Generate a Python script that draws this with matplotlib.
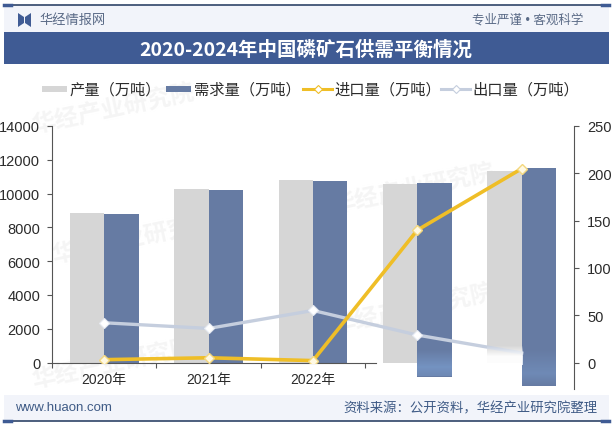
import matplotlib
matplotlib.use("Agg")
import matplotlib.pyplot as plt
from matplotlib.patches import Rectangle
import numpy as np

plt.rcParams['font.family'] = ['Liberation Sans', 'Noto Sans CJK SC', 'DejaVu Sans']

W, H = 613, 427

years = ["2020年", "2021年", "2022年", "2023年", "2024年"]
tick_labels = ["2020年", "2021年", "2022年", "", ""]
production = [8850, 10250, 10800, 10550, 11350]
demand = [8800, 10200, 10750, 10650, 11500]
imports = [3, 5, 2, 140, 205]
exports = [42, 36, 55, 29, 10]
# part of the bars that runs under the axis in the reference
overhang = [0, 0, 0, -880, -1400]

left_ticks = [0, 2000, 4000, 6000, 8000, 10000, 12000, 14000]
right_ticks = [0, 50, 100, 150, 200, 250]

GRAY = "#d6d6d6"
BLUE = "#667ba3"
YELLOW = "#efbe27"
SILVER = "#c5cede"
NAVY = "#2f4468"
BAND = "#3f5b94"
PALE = "#f2f4fa"
TEXT = "#2b2b2b"


def box(x0, y0, x1, y1):
    # pixel box (from top left) to figure fractions
    return [x0 / W, 1 - y1 / H, (x1 - x0) / W, (y1 - y0) / H]


def wash(x0, y0, x1, y1, rgb, alphas):
    # vertical alpha gradient laid over the chart
    img = np.ones((len(alphas), 1, 4))
    img[:, 0, :3] = rgb
    img[:, 0, 3] = alphas
    over = fig.add_axes(box(x0, y0, x1, y1), zorder=3)
    over.axis("off")
    over.imshow(img, aspect="auto", extent=(0, 1, 0, 1), interpolation="bilinear")


fig = plt.figure(figsize=(W / 100, H / 100), dpi=100, facecolor="white")

# page furniture, pixel coordinates
bg = fig.add_axes([0, 0, 1, 1], zorder=0)
bg.set_xlim(0, W)
bg.set_ylim(H, 0)
bg.axis("off")

# faint watermarks
for wx, wy in [(30, 110), (330, 190), (50, 240), (330, 310), (30, 365)]:
    bg.text(wx, wy, "华经产业研究院", fontsize=17, color="#f5f5f5", rotation=12,
            va="center", fontweight="bold", zorder=0.5)

bg.add_patch(Rectangle((4, 6), 605, 27, color=PALE, lw=0))
bg.add_patch(Rectangle((4, 33), 605, 32, color=BAND, lw=0))
bg.add_patch(Rectangle((4, 396), 605, 26, color=PALE, lw=0))
bg.plot([4, 609], [6, 6], color=NAVY, lw=1.2)
bg.plot([4, 609], [422, 422], color=NAVY, lw=1.2)
bg.plot([4, 11], [6, 6], color=BAND, lw=2.5)
bg.plot([602, 609], [6, 6], color=BAND, lw=2.5)
bg.plot([4, 11], [422, 422], color=BAND, lw=2.5)
bg.plot([602, 609], [422, 422], color=BAND, lw=2.5)

# logo
bg.fill([18, 24, 24, 18], [14, 18, 24, 28], color=BAND, lw=0)
bg.fill([31, 25, 25, 31], [14, 18, 24, 28], color=BAND, lw=0)
bg.text(39, 20.5, "华经情报网", fontsize=9.5, color="#5a6a86", va="center")
bg.text(583, 20.5, "专业严谨 • 客观科学", fontsize=9, color="#5a6a86", va="center", ha="right")
bg.text(306, 50.5, "2020-2024年中国磷矿石供需平衡情况", fontsize=14, color="white",
        fontweight="bold", va="center", ha="center", family=["Noto Sans CJK SC", "DejaVu Sans"])
bg.text(15, 408.5, "www.huaon.com", fontsize=9.5, color="#3f5b86", va="center")
bg.text(597, 408.5, "资料来源：公开资料，华经产业研究院整理", fontsize=9.6, color="#3f5b86",
        va="center", ha="right")

# legend
bg.add_patch(Rectangle((42, 87), 25, 6, color=GRAY, lw=0))
bg.add_patch(Rectangle((166, 87), 25, 6, color=BLUE, lw=0))
bg.plot([303, 332], [90, 90], color=YELLOW, lw=2.2)
bg.plot([317.5], [90], "D", ms=4.5, mfc="white", mec=YELLOW, mew=0.8)
bg.plot([441, 470], [90, 90], color=SILVER, lw=2.2)
bg.plot([455.5], [90], "D", ms=4.5, mfc="white", mec=SILVER, mew=0.8)
legend_font = 11
bg.text(70, 90, "产量（万吨）", fontsize=legend_font, color=TEXT, va="center")
bg.text(194, 90, "需求量（万吨）", fontsize=legend_font, color=TEXT, va="center")
bg.text(334, 90, "进口量（万吨）", fontsize=legend_font, color=TEXT, va="center")
bg.text(472, 90, "出口量（万吨）", fontsize=legend_font, color=TEXT, va="center")

# chart
ax = fig.add_axes(box(52, 127, 574, 363.5), zorder=2)
ax.patch.set_alpha(0)
x = np.arange(len(years))
bar_w = 0.33
ax.bar(x - bar_w / 2, production, bar_w, color=GRAY, zorder=2)
ax.bar(x + bar_w / 2, demand, bar_w, color=BLUE, zorder=2)
ax.bar(x + bar_w / 2, overhang, bar_w, color=BLUE, lw=0, zorder=2, clip_on=False)
ax.set_xlim(-0.5, 4.5)
ax.set_ylim(0, 14000)
ax.set_yticks(left_ticks)
ax.set_xticks(x, tick_labels)
ax.set_xticks(np.arange(4) - 0.5, minor=True)
ax.tick_params(axis="x", which="major", length=0, labelsize=10, labelcolor=TEXT, pad=7)
ax.tick_params(axis="x", which="minor", length=3.5, color="#555555", width=0.8)
ax.tick_params(axis="y", length=3.5, color="#555555", width=0.8, labelsize=10.5, labelcolor=TEXT, pad=5)
for side in ["top", "right"]:
    ax.spines[side].set_visible(False)
ax.spines["left"].set_color("#555555")
ax.spines["bottom"].set_color("#555555")
ax.spines["bottom"].set_bounds(-0.5, 2.6)

ax2 = ax.twinx()
ax2.patch.set_alpha(0)
ax2.set_ylim(0, 250)
ax2.set_yticks(right_ticks)
ax2.tick_params(axis="y", length=3.5, color="#555555", width=0.8, labelsize=10.5, labelcolor=TEXT, pad=6)
for side in ["top", "left", "bottom"]:
    ax2.spines[side].set_visible(False)
ax2.spines["right"].set_color("#555555")
ax2.spines["right"].set_bounds(-28, 250)
ax2.plot(x, exports, color=SILVER, lw=2.4, marker="D", ms=5.5, mfc="white", mec="#e6eaf2", mew=0.8,
         markevery=[0, 1, 2, 3], zorder=3)
ax2.plot(x, imports, color=YELLOW, lw=2.6, marker="D", ms=5.5, mfc="#fff9e3", mec="#f3d77e", mew=1, zorder=4)

# washed out patches near the axis on the right
wash(487, 346, 523, 366, (1, 1, 1), np.concatenate([np.linspace(0, 0.95, 12), np.full(8, 0.95)]))
wash(417, 350, 452, 377, (0.5, 0.65, 0.85), np.concatenate([np.linspace(0, 0.55, 18), np.linspace(0.55, 0.35, 9)]))
wash(522, 350, 556, 386, (0.5, 0.65, 0.85), np.concatenate([np.linspace(0, 0.35, 24), np.linspace(0.35, 0.05, 12)]))

fig.savefig("out.png", dpi=100)
